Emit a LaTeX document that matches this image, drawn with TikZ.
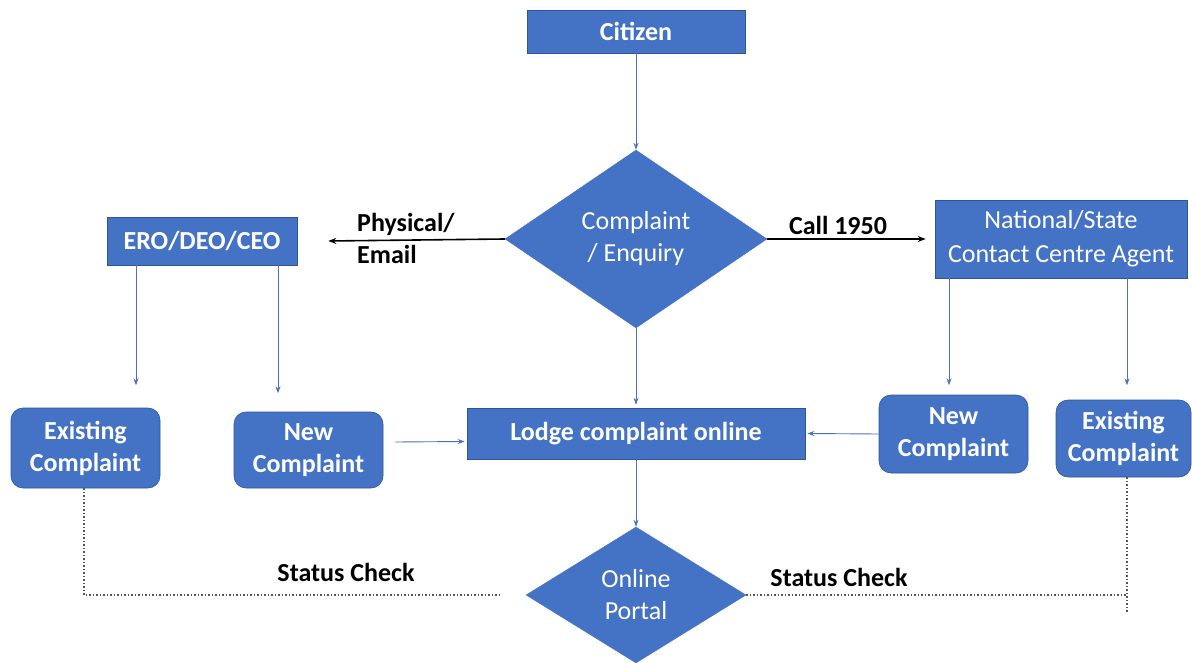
\documentclass[tikz,border=0pt]{standalone}
\usepackage{fontspec}
\setmainfont{Carlito}
\usetikzlibrary{shapes.geometric,arrows.meta}
\definecolor{boxblue}{HTML}{4472C4}
\definecolor{edgeblue}{HTML}{2F5597}
\definecolor{lineblue}{HTML}{4A72C0}
\definecolor{dotgray}{HTML}{555555}
\begin{document}
\begin{tikzpicture}[x=1pt,y=-1pt,
  box/.style={rectangle, fill=boxblue, draw=edgeblue, line width=0.6pt, text=white,
    font=\fontsize{26}{32}\selectfont\bfseries, align=center, inner sep=0pt},
  rbox/.style={box, rounded corners=12pt},
  dia/.style={diamond, fill=boxblue, draw=boxblue, text=white,
    font=\fontsize{26}{32}\selectfont, align=center, inner sep=0pt},
  flow/.style={draw=lineblue, line width=0.9pt, -{Stealth[length=7pt,width=5pt]}},
  side/.style={draw=black, line width=1.6pt, -{Stealth[length=8pt,width=6pt]}},
  stat/.style={draw=dotgray, line width=1.5pt, dash pattern=on 1.5pt off 2pt},
  lbl/.style={font=\fontsize{26}{32}\selectfont\bfseries, text=black, inner sep=0pt, align=left}]
\useasboundingbox (0,0) rectangle (1192,663);

% nodes
\node[box, minimum width=218pt, minimum height=43pt] (cit) at (636,31.5) {Citizen};
\node[dia, minimum width=262pt, minimum height=178pt] (enq) at (636,239) {Complaint\\/ Enquiry};
\node[box, minimum width=190pt, minimum height=48pt] (ero) at (202,241) {ERO/DEO/CEO};
\node[box, font=\fontsize{26}{34}\selectfont, minimum width=252pt, minimum height=78pt] (nat) at (1061,239) {National/State\\Contact Centre Agent};
\node[rbox, minimum width=149pt, minimum height=80pt] (exL) at (85.5,448) {Existing\\Complaint};
\node[rbox, minimum width=149pt, minimum height=76pt] (newL) at (308.5,450) {New\\Complaint};
\node[box, minimum width=338pt, minimum height=51pt] (lodge) at (636,433.5) {Lodge complaint online};
\node[rbox, minimum width=149pt, minimum height=78pt] (newR) at (953.5,434) {New\\Complaint};
\node[rbox, minimum width=135pt, minimum height=77pt] (exR) at (1123.5,438.5) {Existing\\Complaint};
\node[dia, minimum width=220pt, minimum height=136pt] (por) at (636,595) {Online\\Portal};

% labels
\node[lbl, anchor=west] (lphys) at (357,238) {Physical/\\Email};
\node[lbl] (lcall) at (838,225) {Call 1950};
\node[lbl] (lst1) at (346,572) {Status Check};
\node[lbl] (lst2) at (839,577) {Status Check};

% connectors
\draw[flow] (cit) -- (enq.north);
\draw[flow] (enq.south) -- ([yshift=3pt]lodge.north);
\draw[flow] (lodge.south) -- (por.north);
\draw[side] (enq.west) -- ([xshift=31pt]ero.east);
\draw[side] (enq.east) -- ([xshift=-9pt]nat.west);
\draw[flow] ([xshift=-66pt]ero.south) -- ++(0,120);
\draw[flow] ([xshift=76pt]ero.south) -- ++(0,128);
\draw[flow] ([xshift=-112pt]nat.south) -- ++(0,107);
\draw[flow] ([xshift=66pt]nat.south) -- ++(0,107);
\draw[flow] ([xshift=12pt,yshift=8pt]newL.east) -- ([xshift=-2pt,yshift=-8pt]lodge.west);
\draw[flow] (newR.west) -- ([xshift=2pt]lodge.east);

% status check dotted lines
\coordinate (ldot) at ([xshift=-1.5pt]exL.south);
\coordinate (rdot) at ([xshift=3.5pt]exR.south);
\draw[stat] (ldot) |- ([xshift=-24pt]por.west);
\draw[stat] (rdot) -- ++(0,135);
\draw[stat] (por.east) -- (por.east -| rdot);
\end{tikzpicture}
\end{document}
